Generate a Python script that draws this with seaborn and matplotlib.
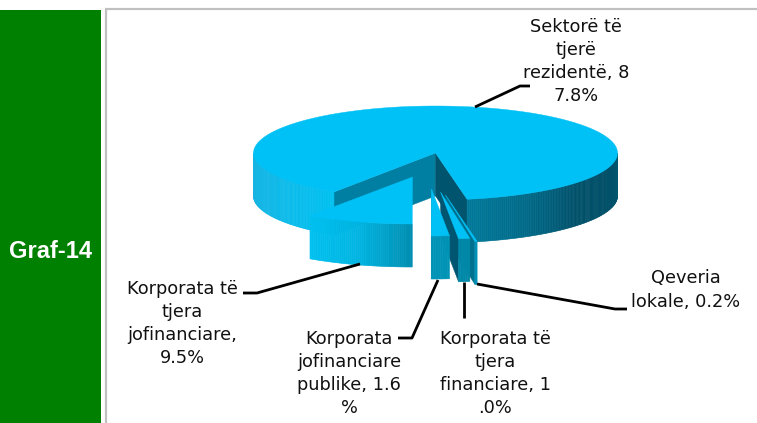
import numpy as np
import matplotlib
matplotlib.use("Agg")
import matplotlib.pyplot as plt
from matplotlib.patches import Polygon, Rectangle
import seaborn as sns

sns.set_theme(style="white")
plt.rcParams["font.family"] = ["DejaVu Sans"]

# Data, clockwise from the big slice
labels = ["Sektorë të\ntjerë\nrezidentë, 8\n7.8%",
          "Qeveria\nlokale, 0.2%",
          "Korporata të\ntjera\nfinanciare, 1\n.0%",
          "Korporata\njofinanciare\npublike, 1.6\n%",
          "Korporata të\ntjera\njofinanciare,\n9.5%"]
shares = [87.8, 0.2, 1.0, 1.6, 9.5]
title_label = "Graf-14"

# Pie geometry in pixels
cx, cy = 435.5, 153
rx, ry = 182, 47
depth = 43
start_angle = -80.0 + 87.8 * 3.6  # the big slice ends at -80 deg going clockwise

offsets = [(0, 0), (10, 42), (5, 39), (-4, 36), (-23, 24)]
left_faces = ["#007FA3", "#00708F", "#005570", "#0090B0", "#0090B0"]
right_faces = ["#00546E", "#0090B4", "#0088A8", "#0093B6", "#0090B0"]
top_color = "#00C1F6"

fig = plt.figure(figsize=(7.57, 4.23), dpi=100)
ax = fig.add_axes([0, 0, 1, 1])
ax.set_xlim(0, 757)
ax.set_ylim(423, 0)
ax.axis("off")

ax.add_patch(Rectangle((0, 10), 100.5, 413, color="#008000", lw=0))
ax.plot([105.7, 105.7, 757], [423, 9, 9], color="#C0C0C0", lw=1.6, solid_joinstyle="miter")
ax.text(50, 252, title_label, color="white", fontsize=17, fontweight="bold",
        family="Liberation Sans", ha="center", va="center")


def point(t, ox, oy):
    a = np.radians(t)
    return cx + ox + rx * np.cos(a), cy + oy - ry * np.sin(a)


def arc(t0, t1, ox, oy):
    ts = np.linspace(t0, t1, max(3, int(abs(t1 - t0) * 2)))
    return [point(t, ox, oy) for t in ts]


def cut_face(t, ox, oy, color, z):
    x, y = point(t, ox, oy)
    ax_, ay_ = cx + ox, cy + oy
    ax.add_patch(Polygon([(ax_, ay_), (x, y), (x, y + depth), (ax_, ay_ + depth)],
                         facecolor=color, edgecolor=color, lw=0.3, zorder=z))


def outer_face(t0, t1, ox, oy, stops, z):
    # narrow strips, coloured left to right
    n = max(2, int(abs(t1 - t0) * 1.5))
    ts = np.linspace(t0, t1, n + 1)
    cols = sns.blend_palette(stops, n)
    for i in range(n):
        a, b = point(ts[i], ox, oy), point(ts[i + 1], ox, oy)
        ax.add_patch(Polygon([a, b, (b[0], b[1] + depth), (a[0], a[1] + depth)],
                             facecolor=cols[i], edgecolor=cols[i], lw=0.4, zorder=z))


# running angles, clockwise
ends = np.cumsum(shares) * 3.6
angles = [(start_angle - (e - s * 3.6), start_angle - e) for e, s in zip(ends, shares)]

z = 2
for i, (t0, t1) in enumerate(angles):
    ox, oy = offsets[i]
    if i == 0:
        cut_face(t0, ox, oy, left_faces[0], z)
        cut_face(t1, ox, oy, right_faces[0], z)
        outer_face(-180, t0 - 360, 0, 0, ["#1BB2E0", "#0FB9E8", "#00C0F0"], z + 1)
        outer_face(t1, 0, 0, 0, ["#00789A", "#006A88", "#00506A", "#004F68", "#00586F"], z + 1)
    elif i == 4:
        outer_face(t1, t0, ox, oy, ["#00C0F0", "#00B5E2", "#008FB2"], z + 1)
    else:
        cut_face(t1, ox, oy, left_faces[i], z)
        col = right_faces[i]
        outer_face(t1, t0, ox, oy, [col, col], z + 1)
    a = (cx + ox, cy + oy)
    ax.add_patch(Polygon([a] + arc(t0, t1, ox, oy), facecolor=top_color,
                         edgecolor=top_color, lw=0.3, zorder=z + 2))
    z += 3

# Leader lines
leaders = [[(475, 107), (520, 86), (530, 86)],
           [(477, 284), (615, 309), (627, 309)],
           [(463.5, 282), (463.5, 318)],
           [(438, 280), (412, 338), (398, 338)],
           [(360, 264), (257, 293), (243, 293)]]
for line in leaders:
    xs, ys = zip(*line)
    ax.plot(xs, ys, color="black", lw=2, zorder=30, solid_capstyle="butt")

# Slice labels
label_pos = [(576, 61.5), (686, 290), (495, 373.5), (349, 373.5), (182, 323.5)]
for text, (x, y) in zip(labels, label_pos):
    ax.text(x, y, text, fontsize=12.8, color="#111111", ha="center", va="center",
            linespacing=1.38, zorder=31)

fig.savefig("out.png", dpi=100)
